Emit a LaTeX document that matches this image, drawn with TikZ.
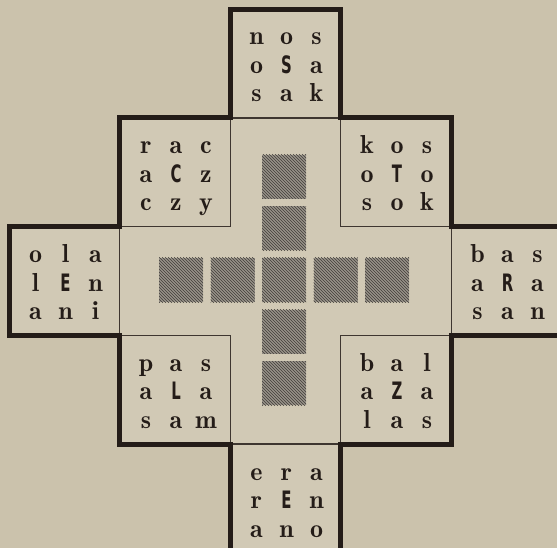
\documentclass[tikz,border=0pt]{standalone}
\usepackage{fontspec}
\usetikzlibrary{patterns}

\newfontfamily\demifont{lmromandemi10-regular.otf}
\newfontfamily\capfont{DejaVu Sans}

\definecolor{paper}{RGB}{203,194,172}
\definecolor{inner}{RGB}{209,201,181}
\definecolor{ink}{RGB}{36,28,24}
\definecolor{rule}{RGB}{62,54,48}
\definecolor{sqfill}{RGB}{152,146,137}
\definecolor{sqline}{RGB}{66,62,58}

\tikzset{
  cellbox/.style={draw=rule, line width=1.3pt, fill=inner,
    minimum width=110.5pt, minimum height=108.75pt,
    inner sep=0pt, outer sep=0pt},
  letter/.style={font=\fontsize{26}{26}\selectfont\demifont, text=ink,
    anchor=base, inner sep=0pt},
  capital/.style={letter, font=\fontsize{24}{24}\selectfont\capfont\bfseries},
  sq/.style={minimum size=44pt, inner sep=0pt, outer sep=0pt,
    preaction={fill=sqfill}, pattern=north west lines, pattern color=sqline},
  outline/.style={draw=ink, line width=5pt, line join=miter}
}

\begin{document}
\begin{tikzpicture}[x=1pt,y=-1pt]
  % parámetros
  \def\ox{285.5}   % centro x
  \def\oy{281}     % centro y
  \def\cw{110.5}   % ancho de celda
  \def\ch{108.75}  % alto de celda
  \def\sp{51.5}    % paso de los cuadrados

  \useasboundingbox (0,0) rectangle (557,548);
  \clip (0,0) rectangle (557,548);
  \fill[paper] (0,0) rectangle (557,548);

  %—————— centro de la cruz ——————————————————————————————————————
  \fill[inner] ({\ox-1.5*\cw},{\oy-0.5*\ch}) rectangle ({\ox+1.5*\cw},{\oy+0.5*\ch});
  \fill[inner] ({\ox-0.5*\cw},{\oy-1.5*\ch}) rectangle ({\ox+0.5*\cw},{\oy+1.5*\ch});

  %—————— casillas con letras ————————————————————————————————————
  \foreach \nm/\i/\j/\la/\lb/\lc/\ld/\le/\lf/\lg/\lh/\li in {
      top/0/-2/n/o/s/o/S/a/s/a/k,
      ul/-1/-1/r/a/c/a/C/z/c/z/y,
      ur/1/-1/k/o/s/o/T/o/s/o/k,
      lft/-2/0/o/l/a/l/E/n/a/n/i,
      rgt/2/0/b/a/s/a/R/a/s/a/n,
      ll/-1/1/p/a/s/a/L/a/s/a/m,
      lr/1/1/b/a/l/a/Z/a/l/a/s,
      bot/0/2/e/r/a/r/E/n/a/n/o} {
    \node[cellbox] (\nm) at ({\ox+(\i)*\cw},{\oy+(\j)*\ch}) {};
    % fila 1
    \node[letter] (\nm-1) at ([shift={(-29,-18.5)}]\nm.center) {\la};
    \node[letter] (\nm-2) at ([shift={(1,-18.5)}]\nm.center)   {\lb};
    \node[letter] (\nm-3) at ([shift={(31,-18.5)}]\nm.center)  {\lc};
    % fila 2
    \node[letter] (\nm-4) at ([shift={(-29,10)}]\nm.center) {\ld};
    \node[capital] (\nm-5) at ([shift={(1,10)}]\nm.center)  {\scalebox{0.62}[1]{\le}};
    \node[letter] (\nm-6) at ([shift={(31,10)}]\nm.center)  {\lf};
    % fila 3
    \node[letter] (\nm-7) at ([shift={(-29,38.5)}]\nm.center) {\lg};
    \node[letter] (\nm-8) at ([shift={(1,38.5)}]\nm.center)   {\lh};
    \node[letter] (\nm-9) at ([shift={(31,38.5)}]\nm.center)  {\li};
  }

  %—————— cuadrados rayados ——————————————————————————————————————
  \foreach \k in {-2,...,2}
    \node[sq] (sqv\k) at ({\ox-1.5},{\oy-1+\k*\sp}) {};
  \foreach \k in {-2,-1,1,2}
    \node[sq] (sqh\k) at ({\ox-1.5+\k*\sp},{\oy-1}) {};

  %—————— contorno grueso ————————————————————————————————————————
  \draw[outline] (top.north west) -- (top.north east) -- (ur.north west)
    -- (ur.north east) -- (ur.south east) -- (rgt.north east)
    -- (rgt.south east) -- (rgt.south west) -- (lr.south east)
    -- (lr.south west) -- (bot.north east) -- (bot.south east)
    -- (bot.south west) -- (bot.north west) -- (ll.south west)
    -- (ll.north west) -- (lft.south west) -- (lft.north west)
    -- (lft.north east) -- (ul.north west) -- (ul.north east)
    -- cycle;
\end{tikzpicture}
\end{document}
